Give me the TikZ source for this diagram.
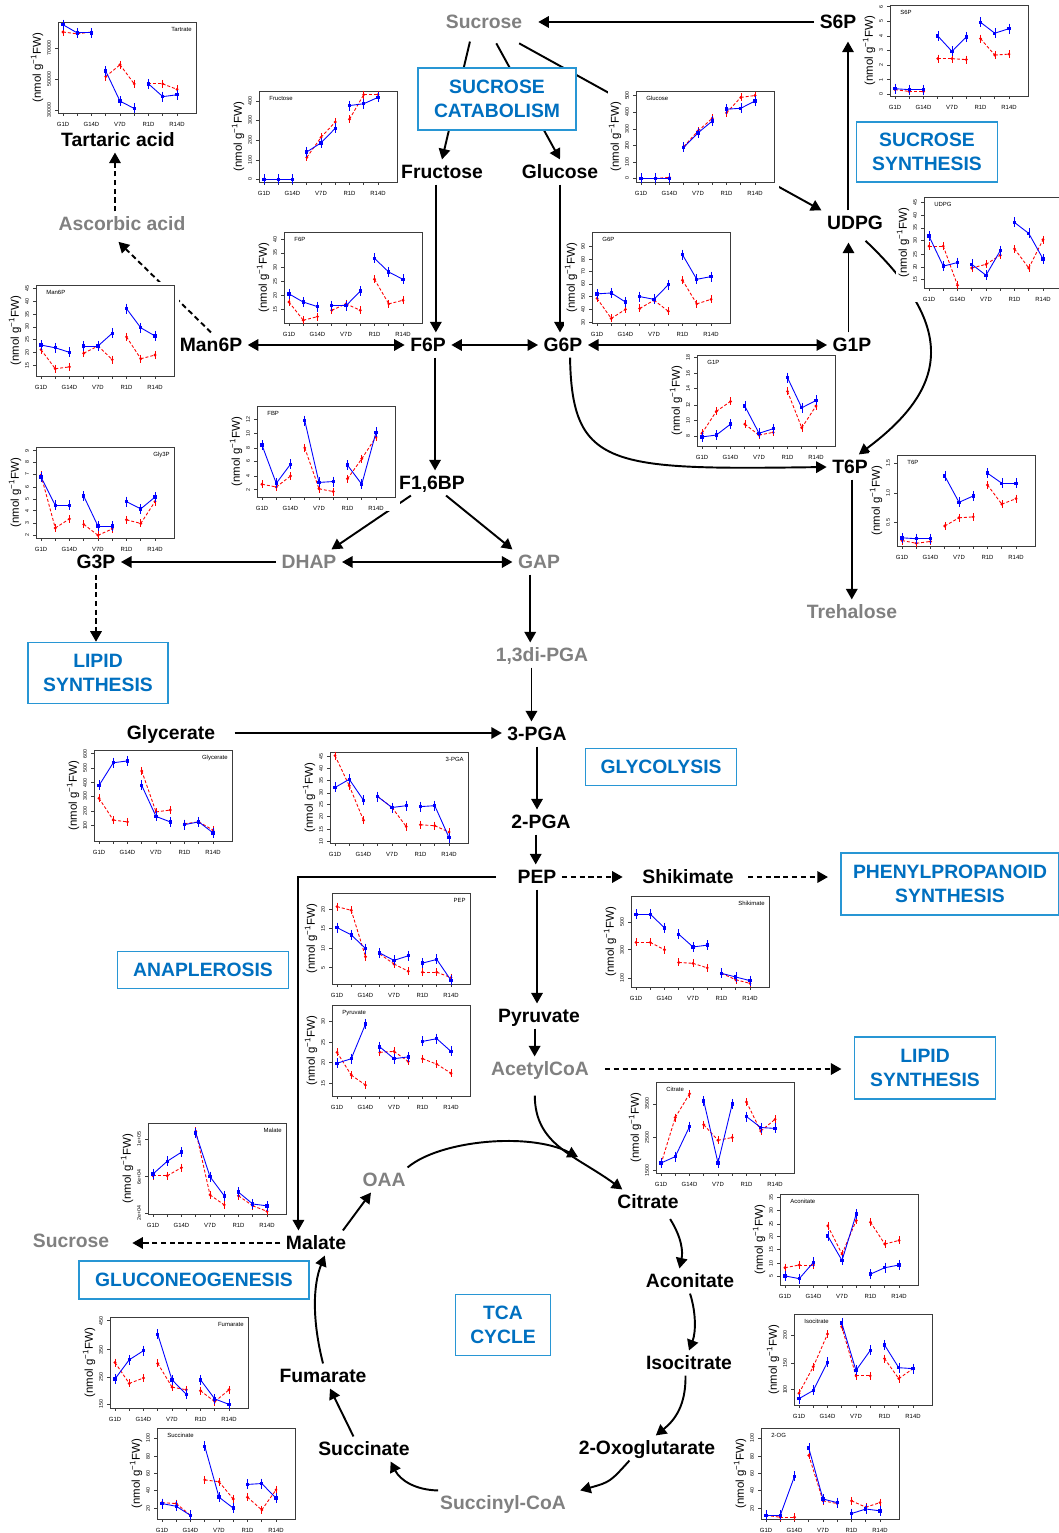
\documentclass[tikz,border=0pt]{standalone}
\usepackage{fontspec}
\setmainfont{Liberation Sans}
\usepackage{tikz}
\usetikzlibrary{arrows.meta}
\definecolor{metgray}{RGB}{128,128,128}
\definecolor{boxtext}{RGB}{0,112,192}
\definecolor{boxline}{RGB}{40,150,212}
\definecolor{axisgray}{RGB}{60,60,60}
\newcommand{\metfont}{\fontsize{11}{13.5}\selectfont\bfseries}
\pgfdeclarelayer{arrowlayer}
\pgfdeclarelayer{plotlayer}
\pgfsetlayers{arrowlayer,plotlayer,main}
\tikzset{
  xlab/.style={font=\fontsize{3.4}{4}\selectfont, inner sep=0pt},
  ylab/.style={font=\fontsize{3}{3.5}\selectfont, inner sep=0pt, rotate=90},
  unitlab/.style={font=\fontsize{6.5}{7}\selectfont, inner sep=0pt, rotate=90},
  ptitle/.style={font=\fontsize{3.4}{4}\selectfont, inner sep=0pt},
  titleleft/.style={ptitle, anchor=north west, at={(10,-86)}},
  titleright/.style={ptitle, anchor=north east, at={(134,-86)}},
  axisline/.style={axisgray, line width=0.4pt},
  blueline/.style={blue, line width=0.5pt},
  redline/.style={red, line width=0.5pt, dash pattern=on 1.7pt off 1.1pt},
  errbar/.style={line width=0.3pt}
}
% mini plot: left, top, title, title place, y ticks, blue values, red values
\newcommand{\miniplot}[7]{%
  \begin{scope}[shift={(#1,#2+91)}]
    \fill[white] (-28,14) rectangle (143,-94);
    \draw[axisgray, line width=0.55pt] (0,0) rectangle (138,-91);
    \foreach \i in {0,...,8} \draw[axisline] ({5+14.25*\i},0) -- ++(0,3);
    \foreach \i/\lab in {0/G1D,2/G14D,4/V7D,6/R1D,8/R14D}
      \node[xlab] at ({5+14.25*\i},11) {\lab};
    \foreach \f/\lab in {#5} {
      \draw[axisline] (0,{-91*\f}) -- ++(-3,0);
      \node[ylab] at (-9,{-91*\f}) {\lab};
    }
    \node[unitlab] at (-21,-45.5) {(nmol g\textsuperscript{\char"2212 1}FW)};
    \node[#4] {#3};
    \foreach \val [count=\i from 0, remember=\val as \prev (initially 0)] in {#7} {
      \pgfmathtruncatemacro\grp{mod(\i,3)}
      \ifnum\grp>0 \draw[redline] ({5+14.25*(\i-1)},{-91*\prev}) -- ({5+14.25*\i},{-91*\val});\fi
      \draw[red, errbar] ({5+14.25*\i},{-91*\val-4}) -- ++(0,8);
      \fill[red] ({5+14.25*\i},{-91*\val}) circle[radius=0.9pt];
    }
    \foreach \val [count=\i from 0, remember=\val as \prev (initially 0)] in {#6} {
      \pgfmathtruncatemacro\grp{mod(\i,3)}
      \ifnum\grp>0 \draw[blueline] ({5+14.25*(\i-1)},{-91*\prev}) -- ({5+14.25*\i},{-91*\val});\fi
      \draw[blue, errbar] ({5+14.25*\i},{-91*\val-5}) -- ++(0,10);
      \fill[blue] ({5+14.25*\i},{-91*\val}) +(-1.7,-1.7) rectangle +(1.7,1.7);
    }
  \end{scope}}

\begin{document}
\begin{tikzpicture}[x=0.02cm, y=-0.02cm,
    met/.style={font=\metfont, text height=7.9pt, text depth=0pt, inner sep=3pt},
    faded/.style={met, text=metgray},
    pathbox/.style={draw=boxline, line width=0.9pt, fill=white, text=boxtext,
      font=\metfont, align=center, inner sep=0pt},
    arr/.style={-{Triangle[length=6pt,width=6.5pt]}, line width=1.1pt},
    darr/.style={{Triangle[length=6pt,width=6.5pt]}-{Triangle[length=6pt,width=6.5pt]}, line width=1.1pt},
    dasharr/.style={arr, dash pattern=on 3pt off 2pt}]
  \useasboundingbox (0,0) rectangle (1058,1533);

  % metabolites
  \node[faded] (suc) at (484,22) {Sucrose};
  \node[met] (s6p) at (838,22) {S6P};
  \node[met] (fru) at (442,172) {Fructose};
  \node[met] (glc) at (560,172) {Glucose};
  \node[met] (udpg) at (855,223) {UDPG};
  \node[met] (tar) at (118,140) {Tartaric acid};
  \node[faded] (asc) at (122,224) {Ascorbic acid};
  \node[met] (man6p) at (211,345) {Man6P};
  \node[met] (f6p) at (428,345) {F6P};
  \node[met] (g6p) at (563,345) {G6P};
  \node[met] (g1p) at (852,345) {G1P};
  \node[met] (fbp) at (432,483) {F1,6BP};
  \node[met] (t6p) at (850,467) {T6P};
  \node[met] (g3p) at (96,562) {G3P};
  \node[faded] (dhap) at (309,562) {DHAP};
  \node[faded] (gap) at (539,562) {GAP};
  \node[faded] (tre) at (852,612) {Trehalose};
  \node[faded] (dpga) at (542,655) {1,3di-PGA};
  \node[met] (glyc) at (171,733) {Glycerate};
  \node[met] (pga3) at (537,734) {3-PGA};
  \node[met] (pga2) at (541,822) {2-PGA};
  \node[met] (pep) at (537,877) {PEP};
  \node[met] (shik) at (688,877) {Shikimate};
  \node[met] (pyr) at (539,1016) {Pyruvate};
  \node[faded] (acoa) at (540,1069) {AcetylCoA};
  \node[faded] (oaa) at (384,1180) {OAA};
  \node[met] (cit) at (648,1202) {Citrate};
  \node[met] (mal) at (316,1243) {Malate};
  \node[faded] (sucl) at (71,1241) {Sucrose};
  \node[met] (acon) at (690,1281) {Aconitate};
  \node[met] (icit) at (689,1363) {Isocitrate};
  \node[met] (fum) at (323,1376) {Fumarate};
  \node[met] (succ) at (364,1449) {Succinate};
  \node[met] (og) at (647,1448) {2-Oxoglutarate};
  \node[faded] (sucoa) at (503,1503) {Succinyl-CoA};

  % pathway boxes
  \node[pathbox, minimum width=3.16cm, minimum height=1.24cm] (bsuccat) at (497,99) {SUCROSE\\CATABOLISM};
  \node[pathbox, minimum width=2.82cm, minimum height=1.2cm] (bsucsyn) at (927,152) {SUCROSE\\SYNTHESIS};
  \node[pathbox, minimum width=2.8cm, minimum height=1.22cm] (blip1) at (98,673) {LIPID\\SYNTHESIS};
  \node[pathbox, minimum width=3.02cm, minimum height=0.74cm] (bglyco) at (661,767) {GLYCOLYSIS};
  \node[pathbox, minimum width=4.36cm, minimum height=1.24cm] (bphen) at (950,884) {PHENYLPROPANOID\\SYNTHESIS};
  \node[pathbox, minimum width=3.42cm, minimum height=0.74cm] (banap) at (203,970) {ANAPLEROSIS};
  \node[pathbox, minimum width=2.82cm, minimum height=1.24cm] (blip2) at (925,1068) {LIPID\\SYNTHESIS};
  \node[pathbox, minimum width=4.6cm, minimum height=0.76cm] (bgluco) at (194,1280) {GLUCONEOGENESIS};
  \node[pathbox, minimum width=1.9cm, minimum height=1.22cm] (btca) at (503,1325) {TCA\\CYCLE};

  \begin{pgfonlayer}{arrowlayer}
  % sucrose metabolism
  \draw[arr, shorten >=6pt] (s6p) -- (suc);
  \draw[arr] ([xshift=-8pt,yshift=-4pt]suc.south) -- (fru.north);
  \draw[arr] ([xshift=7pt,yshift=-5pt]suc.south) -- (glc.north);
  \draw[arr] ([xshift=20pt,yshift=-5pt]suc.south) -- (udpg.north west);
  \draw[arr, shorten >=4pt] ([xshift=-4pt]udpg.north) -- ([xshift=-4pt]udpg.north |- s6p.south);
  \draw[arr, shorten >=4pt] ([xshift=-2pt]g1p.north) -- ([xshift=-2pt]g1p.north |- udpg.south);
  \draw[arr] ([xshift=6pt,yshift=-3pt]udpg.south) .. controls (960,330) and (945,390) .. ([xshift=5pt]t6p.north);
  \draw[arr] ([xshift=-3.5pt]fru.south) -- ([xshift=-3.5pt]fru.south |- f6p.north);
  \draw[arr] (glc.south) -- (glc.south |- g6p.north);
  \draw[darr] (f6p) -- (man6p);
  \draw[darr] (f6p) -- (g6p);
  \draw[darr] (g6p) -- (g1p);
  \draw[arr] ([xshift=4pt]g6p.south) .. controls (572,468) and (610,470) .. (t6p.west);
  \draw[arr] ([xshift=1pt]t6p.south) -- ([xshift=1pt]t6p.south |- tre.north);
  \draw[dasharr] (man6p.north) -- ([xshift=-2pt,yshift=-3pt]asc.south);
  \draw[dasharr] ([xshift=-4pt]asc.north) -- ([xshift=-4pt]asc.north |- tar.south);
  % glycolysis
  \draw[arr] ([xshift=4pt]f6p.south) -- ([xshift=4pt]f6p.south |- fbp.north);
  \draw[arr] ([xshift=-12pt]fbp.south) -- ([xshift=-6pt]dhap.north east);
  \draw[arr] ([xshift=8pt]fbp.south) -- (gap.north west);
  \draw[arr] (dhap) -- (g3p);
  \draw[darr] (dhap) -- (gap);
  \draw[dasharr] (g3p.south) -- (g3p.south |- blip1.north);
  \draw[arr] ([xshift=-5pt]gap.south) -- ([xshift=-5pt]gap.south |- dpga.north);
  \draw[arr] ([xshift=-6pt]dpga.south) -- ([xshift=-6pt]dpga.south |- pga3.north);
  \draw[arr, shorten <=8pt] (glyc.east) -- (glyc.east -| pga3.west);
  \draw[arr] (pga3.south) -- (pga3.south |- pga2.north);
  \draw[arr] ([xshift=-3pt]pga2.south) -- ([xshift=-3pt]pga2.south |- pep.north);
  \draw[dasharr, shorten >=8pt] (pep) -- (shik);
  \draw[dasharr, shorten <=5pt, shorten >=7pt] (shik.east) -- (shik.east -| bphen.west);
  \draw[arr] (pep.south) -- (pep.south |- pyr.north);
  \draw[arr] ([xshift=-2.5pt]pyr.south) -- ([xshift=-2.5pt]pyr.south |- acoa.north);
  \draw[dasharr, shorten <=6pt, shorten >=7pt] (acoa.east) -- (acoa.east -| blip2.west);
  \draw[arr, shorten <=9pt] (pep.west) -| ([xshift=-10pt]mal.north);
  % TCA cycle
  \coordinate (cjoin) at (578,1157);
  \draw[arr, shorten <=8pt] ([xshift=-3pt]acoa.south) .. controls (535,1145) and (575,1155) .. ([xshift=6pt]cit.north west);
  \draw[arr] ([xshift=-2pt]oaa.north east) .. controls (440,1140) and (530,1132) .. (cjoin);
  \draw[arr, shorten <=3pt] ([xshift=11pt]cit.south) .. controls (682,1238) and (683,1252) .. ([xshift=-6pt]acon.north);
  \draw[arr] (acon.south) .. controls (696,1312) and (696,1332) .. (icit.north);
  \draw[arr] ([xshift=-2pt]icit.south) .. controls (686,1405) and (675,1420) .. ([xshift=5pt]og.north);
  \draw[arr] ([xshift=-10pt]og.south) .. controls (610,1482) .. ([xshift=5pt]sucoa.north east);
  \draw[arr] ([xshift=2pt]sucoa.north west) .. controls (415,1490) and (400,1480) .. ([xshift=-14pt]succ.south east);
  \draw[arr] ([xshift=-6pt]succ.north) -- ([xshift=4pt]fum.south);
  \draw[arr] (fum.north) .. controls (312,1320) and (313,1285) .. ([xshift=5pt]mal.south);
  \draw[arr] ([xshift=-5pt]mal.north east) -- ([xshift=8pt]oaa.south west);
  \draw[dasharr, shorten >=10pt] (mal.west) -- (mal.west -| sucl.east);
  \end{pgfonlayer}

  \begin{pgfonlayer}{plotlayer}
  \miniplot{58}{22}{Tartrate}{titleright}{0.03/30000,0.37/50000,0.71/70000}
    {0.97,0.88,0.88,0.46,0.13,0.05,0.32,0.18,0.2}{0.89,0.87,0.89,0.4,0.53,0.32,0.32,0.32,0.26}
  \miniplot{259}{91}{Fructose}{titleleft}{0.03/0,0.24/100,0.46/200,0.68/300,0.89/400}
    {0.03,0.03,0.03,0.33,0.43,0.59,0.84,0.86,0.93}{0.03,0.03,0.03,0.27,0.49,0.66,0.69,0.96,0.96}
  \miniplot{636}{91}{Glucose}{titleleft}{0.04/0,0.22/100,0.40/200,0.58/300,0.77/400,0.95/500}
    {0.04,0.04,0.04,0.38,0.54,0.67,0.8,0.81,0.89}{0.04,0.04,0.05,0.39,0.56,0.7,0.76,0.93,0.95}
  \miniplot{890}{5}{S6P}{titleleft}{0.02/0,0.18/1,0.34/2,0.5/3,0.66/4,0.82/5,0.98/6}
    {0.08,0.07,0.07,0.66,0.49,0.65,0.81,0.69,0.74}{0.07,0.05,0.05,0.41,0.41,0.4,0.63,0.45,0.46}
  \miniplot{36}{285}{Man6P}{titleleft}{0.12/15,0.26/20,0.40/25,0.54/30,0.68/35,0.82/40,0.96/45}
    {0.34,0.31,0.26,0.33,0.33,0.47,0.74,0.53,0.44}{0.29,0.08,0.1,0.25,0.33,0.18,0.43,0.19,0.23}
  \miniplot{284}{232}{F6P}{titleleft}{0.15/15,0.30/20,0.46/25,0.61/30,0.77/35,0.92/40}
    {0.32,0.23,0.18,0.19,0.19,0.35,0.71,0.56,0.48}{0.23,0.03,0.07,0.14,0.21,0.14,0.48,0.21,0.25}
  \miniplot{592}{232}{G6P}{titleleft}{0.01/30,0.15/40,0.29/50,0.43/60,0.57/70,0.70/80,0.84/90}
    {0.32,0.33,0.23,0.29,0.26,0.42,0.75,0.48,0.51}{0.27,0.05,0.15,0.16,0.25,0.13,0.47,0.21,0.26}
  \miniplot{924}{197}{UDPG}{titleleft}{0.09/15,0.23/20,0.37/25,0.52/30,0.66/35,0.80/40,0.94/45}
    {0.57,0.24,0.28,0.26,0.14,0.41,0.72,0.6,0.32}{0.46,0.46,0.03,0.22,0.26,0.36,0.43,0.22,0.53}
  \miniplot{697}{355}{G1P}{titleleft}{0.11/8,0.28/10,0.45/12,0.63/14,0.80/16,0.97/18}
    {0.1,0.12,0.24,0.44,0.14,0.19,0.75,0.42,0.5}{0.14,0.38,0.49,0.24,0.12,0.15,0.6,0.2,0.44}
  \miniplot{897}{455}{T6P}{titleleft}{0.26/0.5,0.58/1.0,0.91/1.5}
    {0.09,0.08,0.08,0.77,0.48,0.55,0.8,0.69,0.69}{0.06,0.03,0.05,0.22,0.31,0.32,0.67,0.46,0.52}
  \miniplot{257}{406}{FBP}{titleleft}{0.08/2,0.23/4,0.39/6,0.54/8,0.70/10,0.85/12}
    {0.57,0.15,0.36,0.84,0.16,0.17,0.35,0.14,0.71}{0.14,0.11,0.23,0.54,0.09,0.06,0.2,0.42,0.66}
  \miniplot{36}{447}{Gly3P}{titleright}{0.03/2,0.16/3,0.30/4,0.43/5,0.56/6,0.70/7,0.83/8,0.96/9}
    {0.67,0.36,0.36,0.46,0.13,0.13,0.4,0.32,0.45}{0.69,0.11,0.21,0.15,0.03,0.1,0.2,0.16,0.4}
  \miniplot{94}{750}{Glycerate}{titleright}{0.17/100,0.33/200,0.49/300,0.64/400,0.80/500,0.96/600}
    {0.61,0.86,0.88,0.61,0.27,0.21,0.18,0.21,0.09}{0.47,0.23,0.21,0.77,0.32,0.34,0.19,0.21,0.12}
  \miniplot{330}{752}{3-PGA}{titleright}{0.02/10,0.15/15,0.29/20,0.42/25,0.55/30,0.69/35,0.82/40,0.95/45}
    {0.61,0.7,0.47,0.51,0.39,0.41,0.4,0.41,0.06}{0.96,0.63,0.25,0.51,0.39,0.18,0.2,0.19,0.12}
  \miniplot{332}{893}{PEP}{titleright}{0.18/5,0.39/10,0.61/15,0.82/20}
    {0.62,0.54,0.39,0.34,0.26,0.31,0.23,0.27,0.04}{0.85,0.81,0.3,0.33,0.22,0.14,0.13,0.13,0.07}
  \miniplot{332}{1005}{Pyruvate}{titleleft}{0.14/15,0.37/20,0.59/25,0.82/30}
    {0.36,0.41,0.79,0.54,0.41,0.43,0.6,0.63,0.49}{0.48,0.23,0.12,0.48,0.49,0.38,0.41,0.35,0.25}
  \miniplot{631}{896}{Shikimate}{titleright}{0.1/100,0.41/300,0.71/500}
    {0.8,0.8,0.65,0.58,0.44,0.46,0.15,0.11,0.07}{0.49,0.49,0.41,0.27,0.26,0.21,0.15,0.08,0.04}
  \miniplot{656}{1082}{Citrate}{titleleft}{0.03/1500,0.39/2500,0.76/3500}
    {0.11,0.18,0.51,0.79,0.11,0.76,0.62,0.5,0.49}{0.1,0.61,0.87,0.53,0.36,0.39,0.78,0.46,0.59}
  \miniplot{780}{1194}{Aconitate}{titleleft}{0.10/5,0.24/10,0.39/15,0.53/20,0.67/25,0.82/30,0.96/35}
    {0.1,0.07,0.25,0.54,0.27,0.78,0.12,0.19,0.22}{0.19,0.22,0.22,0.65,0.34,0.71,0.69,0.45,0.49}
  \miniplot{794}{1314}{Isocitrate}{titleleft}{0.17/100,0.46/150,0.77/200}
    {0.07,0.16,0.47,0.9,0.38,0.6,0.66,0.41,0.4}{0.13,0.42,0.78,0.86,0.32,0.32,0.51,0.29,0.4}
  \miniplot{761}{1428}{2-OG}{titleleft}{0.12/20,0.31/40,0.5/60,0.69/80,0.89/100}
    {0.04,0.04,0.47,0.78,0.22,0.18,0.06,0.11,0.09}{0.04,0.02,0.02,0.7,0.2,0.17,0.2,0.13,0.18}
  \miniplot{148}{1123}{Malate}{titleright}{0.01/2e+04,0.41/6e+04,0.82/1e+05}
    {0.44,0.58,0.68,0.89,0.41,0.2,0.24,0.11,0.09}{0.42,0.42,0.51,0.91,0.21,0.1,0.2,0.09,0.03}
  \miniplot{110}{1317}{Fumarate}{titleright}{0.04/150,0.34/250,0.64/350,0.96/450}
    {0.32,0.53,0.63,0.81,0.31,0.15,0.31,0.1,0.04}{0.5,0.27,0.33,0.49,0.23,0.2,0.19,0.07,0.2}
  \miniplot{157}{1428}{Succinate}{titleleft}{0.12/20,0.31/40,0.5/60,0.69/80,0.89/100}
    {0.17,0.14,0.04,0.8,0.24,0.12,0.38,0.39,0.23}{0.18,0.17,0.04,0.43,0.41,0.22,0.24,0.1,0.32}
  \end{pgfonlayer}
\end{tikzpicture}
\end{document}
